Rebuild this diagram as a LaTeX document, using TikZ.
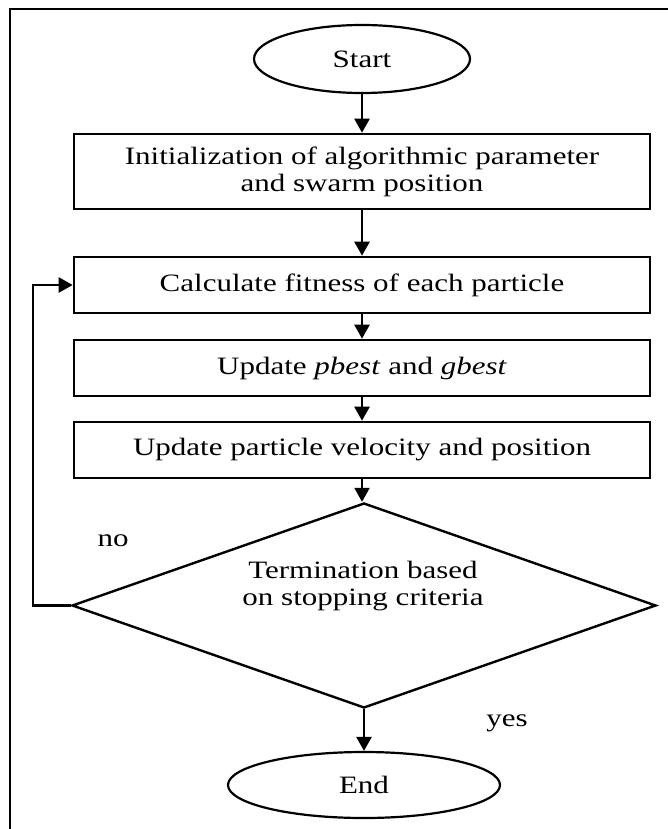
\documentclass[tikz,border=0pt]{standalone}
\usepackage{fontspec}
\setmainfont{Liberation Serif}[FakeStretch=1.24]
\usetikzlibrary{shapes.geometric,arrows.meta}
\begin{document}
\begin{tikzpicture}[x=1pt,y=-1pt,
  every node/.style={font=\fontsize{25}{27}\selectfont},
  box/.style={draw,line width=2.6pt,rectangle,minimum width=576pt,inner sep=0pt,align=center},
  oval/.style={draw,line width=2.2pt,ellipse,inner sep=0pt},
  dec/.style={draw,line width=2.4pt,diamond,inner sep=0pt,minimum width=584pt,minimum height=205pt},
  arr/.style={line width=2.4pt,-{Triangle[length=14pt,width=15pt]}},
  frame/.style={line width=2.2pt}]
\useasboundingbox (0,0) rectangle (668,829);
\coordinate (fb) at (10,829);
\coordinate (fc) at (10,9);
\coordinate (fr) at (668,9);
\draw[frame] (fb) -- (fc) -- (fr);

\node[oval,minimum width=216pt,minimum height=68pt] (start) at (362,59) {Start};
\node[box,minimum height=75pt] (init) at (362,171.5) {Initialization of algorithmic parameter\\and swarm position};
\node[box,minimum height=56pt] (calc) at (362,285) {Calculate fitness of each particle};
\node[box,minimum height=56pt] (best) at (362,368) {Update \textit{pbest} and \textit{gbest}};
\node[box,minimum height=56pt] (vel) at (362,450) {Update particle velocity and position};
\node[dec] (dia) at (364,605.5) {};
\node[align=center] (dtext) at (363,586) {Termination based\\on stopping criteria};
\node[oval,minimum width=272pt,minimum height=66pt] (end) at (364,785) {End};
\node (no) at (113,541) {no};
\node (yes) at (507,723) {yes};

\draw[arr] (start) -- (init);
\draw[arr] (init) -- (calc);
\draw[arr] (calc) -- (best);
\draw[arr] (best) -- (vel);
\draw[arr] (vel.south) -- (vel.south |- dia.north);
\draw[arr] (dia.south) -- (end);
\draw[arr] (dia.west) -- ++(-38,0) |- (calc.west);
\end{tikzpicture}
\end{document}
